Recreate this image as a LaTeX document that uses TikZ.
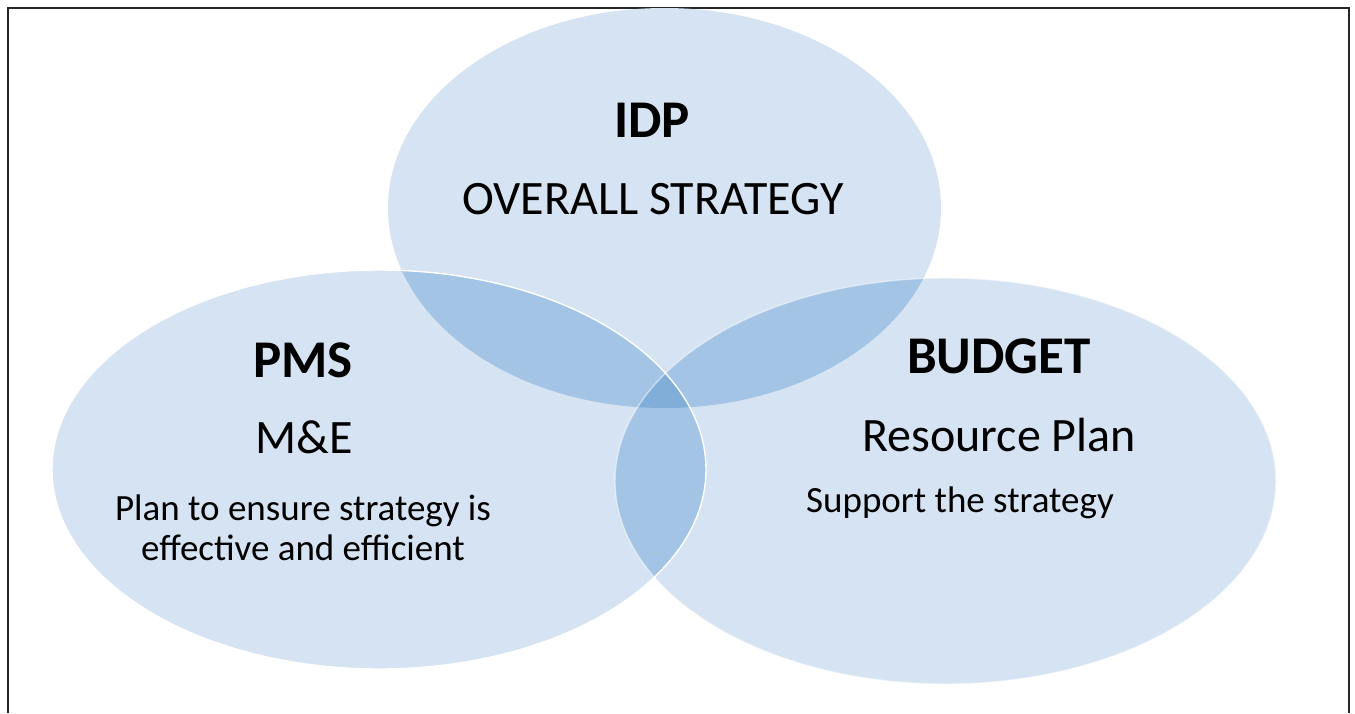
\documentclass[tikz,border=0pt]{standalone}
\usepackage{fontspec}
\setmainfont{Carlito}
\definecolor{vennbase}{HTML}{D5E3F2}
\definecolor{vennpair}{HTML}{A3C4E4}
\definecolor{venntriple}{HTML}{80AED8}
\definecolor{frameline}{HTML}{262626}

\begin{document}
\begin{tikzpicture}[x=1pt, y=-1pt,
    heading/.style={font=\bfseries\fontsize{53}{60}\selectfont, anchor=base},
    subheading/.style={font=\fontsize{48}{54}\selectfont, anchor=base},
    remark/.style={font=\fontsize{37}{40}\selectfont, align=center},
    outline/.style={draw=white, line width=1.4pt}]

    \useasboundingbox (0,0) rectangle (1355,713);
    \draw[line width=1.5pt, frameline]
        (8,713) -- (8,8) -- (1349,8) -- (1349,713);

    \coordinate (idp) at (664.5,208);
    \coordinate (pms) at (379,469.5);
    \coordinate (budget) at (945.5,481);

    % base circles
    \fill[vennbase] (idp) ellipse [x radius=276.5pt, y radius=200pt];
    \fill[vennbase] (pms) ellipse [x radius=327pt, y radius=199.5pt];
    \fill[vennbase] (budget) ellipse [x radius=330.5pt, y radius=203pt];

    % overlaps
    \begin{scope}
        \clip (idp) ellipse [x radius=276.5pt, y radius=200pt];
        \fill[vennpair] (pms) ellipse [x radius=327pt, y radius=199.5pt];
        \fill[vennpair] (budget) ellipse [x radius=330.5pt, y radius=203pt];
    \end{scope}
    \begin{scope}
        \clip (pms) ellipse [x radius=327pt, y radius=199.5pt];
        \fill[vennpair] (budget) ellipse [x radius=330.5pt, y radius=203pt];
    \end{scope}
    \begin{scope}
        \clip (idp) ellipse [x radius=276.5pt, y radius=200pt];
        \clip (pms) ellipse [x radius=327pt, y radius=199.5pt];
        \fill[venntriple] (budget) ellipse [x radius=330.5pt, y radius=203pt];
    \end{scope}

    \draw[outline, opacity=0.5] (budget) ellipse [x radius=330.5pt, y radius=203pt];
    \draw[outline] (pms) ellipse [x radius=327pt, y radius=199.5pt];

    % labels
    \node[heading] (idptitle) at (652,137) {IDP};
    \node[subheading] (idptext) at (653,214) {OVERALL STRATEGY};

    \node[heading] (pmstitle) at (303,377) {PMS};
    \node[subheading] (pmstext) at (304,453) {M\&E};
    \node[remark] (pmsnote) at (303,528) {Plan to ensure strategy is\\effective and efficient};

    \node[heading] (budgettitle) at (999,373) {BUDGET};
    \node[subheading] (budgettext) at (999,451) {Resource Plan};
    \node[remark] (budgetnote) at (960,503) {Support the strategy};

\end{tikzpicture}
\end{document}
